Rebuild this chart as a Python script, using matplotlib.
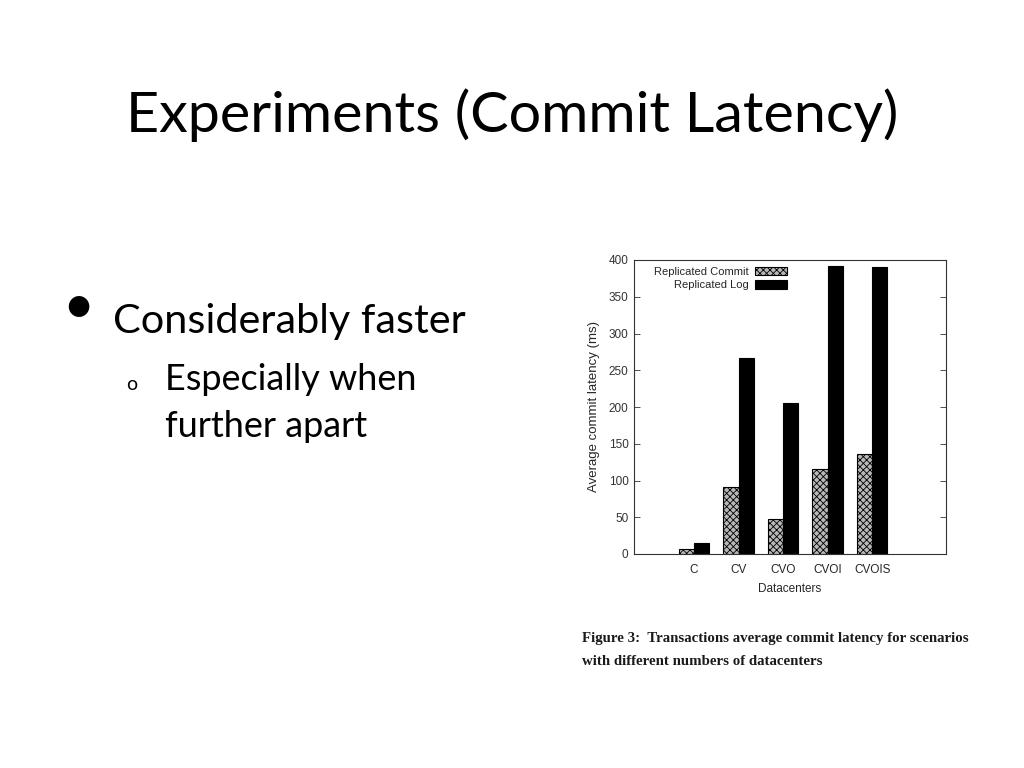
import matplotlib
matplotlib.use("Agg")
import matplotlib.pyplot as plt
import numpy as np

# data
datacenters = ["C", "CV", "CVO", "CVOI", "CVOIS"]
replicated_commit = [7, 91, 47, 115, 136]
replicated_log = [15, 267, 205, 392, 390]
yticks = [0, 50, 100, 150, 200, 250, 300, 350, 400]

plt.rcParams["hatch.color"] = "#404040"
plt.rcParams["hatch.linewidth"] = 0.6

fig = plt.figure(figsize=(10.24, 7.68), dpi=100)
fig.patch.set_facecolor("white")

# slide texts
slide_font = ["Lato", "DejaVu Sans"]
fig.text(0.5, 1 - 132 / 768, "Experiments (Commit Latency)", ha="center", va="baseline",
         fontsize=41.4, family=slide_font)
fig.text(78 / 1024, 1 - 323 / 768, "\u2022", ha="center", va="baseline", fontsize=40, family=slide_font)
fig.text(113 / 1024, 1 - 333 / 768, "Considerably faster", ha="left", va="baseline",
         fontsize=29.8, family=slide_font)
fig.text(132 / 1024, 1 - 390 / 768, "o", ha="center", va="baseline", fontsize=14, family=slide_font)
fig.text(165 / 1024, 1 - 390 / 768, "Especially when", ha="left", va="baseline",
         fontsize=25.9, family=slide_font)
fig.text(165 / 1024, 1 - 437 / 768, "further apart", ha="left", va="baseline",
         fontsize=25.9, family=slide_font)

# caption under the figure
cap_font = ["Liberation Serif"]
fig.text(582 / 1024, 1 - 642 / 768, "Figure 3:  Transactions average commit latency for scenarios",
         ha="left", va="baseline", fontsize=10.7, fontweight="bold", family=cap_font,
         color="#1a1a1a")
fig.text(582 / 1024, 1 - 665 / 768, "with different numbers of datacenters",
         ha="left", va="baseline", fontsize=10.7, fontweight="bold", family=cap_font,
         color="#1a1a1a")

# chart
chart_font = ["Liberation Sans"]
ink = "#262626"
ax = fig.add_axes([634 / 1024, 1 - 554 / 768, (946 - 634) / 1024, (554 - 260) / 768])
x = np.arange(len(datacenters))
w = 0.34
ax.bar(x - w / 2, replicated_commit, w, facecolor="#b8b8b8", edgecolor="black",
       linewidth=0.8, hatch="xxxxx", label="Replicated Commit")
ax.bar(x + w / 2, replicated_log, w, facecolor="black", edgecolor="black",
       linewidth=0.8, label="Replicated Log")

ax.set_xlim(-1.35, 5.66)
ax.set_ylim(0, 400)
ax.set_yticks(yticks)
ax.set_xticks(x)
ax.set_xticklabels(datacenters, family=chart_font, fontsize=8.5, color=ink)
for lab in ax.get_yticklabels():
    lab.set_family(chart_font)
    lab.set_fontsize(8.5)
    lab.set_color(ink)
ax.tick_params(axis="y", direction="in", right=True, length=4, width=0.6, pad=4, colors="#333333")
ax.tick_params(axis="x", length=0, pad=7)
for s in ax.spines.values():
    s.set_linewidth(0.8)
    s.set_color("#333333")

ax.set_xlabel("Datacenters", family=chart_font, fontsize=8.5, labelpad=5, color=ink)
ax.set_ylabel("Average commit latency (ms)", family=chart_font, fontsize=9.5, labelpad=6, color=ink)

ax.legend(loc="upper left", bbox_to_anchor=(0.044, 1.0), frameon=False, markerfirst=False,
          prop={"family": chart_font, "size": 8}, handlelength=2.9, handleheight=0.8,
          handletextpad=0.5, labelspacing=0.32, borderaxespad=0.2, labelcolor=ink)

fig.savefig("out.png", dpi=100)
